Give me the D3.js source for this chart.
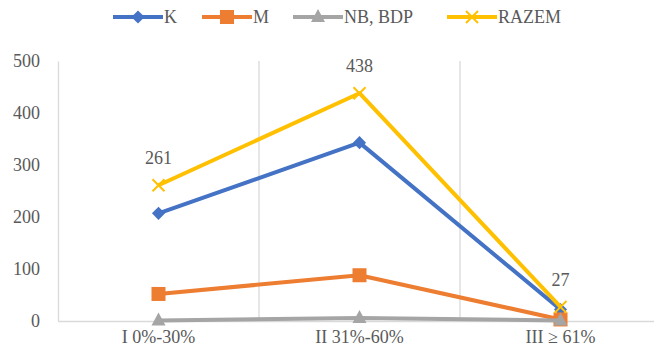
<!DOCTYPE html>
<html>
<head>
<meta charset="utf-8">
<script src="https://cdn.jsdelivr.net/npm/d3@7/dist/d3.min.js"></script>
<style>
  html, body { margin: 0; padding: 0; background: #fff; overflow: hidden; }
  svg { display: block; font-family: "Liberation Serif", "Times New Roman", serif; }
</style>
</head>
<body>
<svg id="chart" width="654" height="353"></svg>
<script>
// Categories and series
const categories = ["I 0%-30%", "II 31%-60%", "III \u2265 61%"];
const seriesNames = ["K", "M", "NB, BDP", "RAZEM"];
const valuesK = [207, 343, 22];
const valuesM = [52, 88, 3];
const valuesNB = [1, 6, 1];
const valuesRazem = [261, 438, 27];
const yTicks = [0, 100, 200, 300, 400, 500];

const seriesColors = ["#4472C4", "#ED7D31", "#A5A5A5", "#FFC000"];
const seriesMarkers = ["diamond", "square", "triangle", "cross"];
const series = [valuesK, valuesM, valuesNB, valuesRazem].map((v, i) => ({
  name: seriesNames[i], values: v, color: seriesColors[i], marker: seriesMarkers[i]
}));

const svg = d3.select("#chart");
const textColor = "#595959";
const gridColor = "#d9d9d9";

const x = d3.scaleBand().domain(categories).range([58, 661]).paddingInner(0).paddingOuter(0);
const y = d3.scaleLinear().domain([0, 500]).range([321, 61]);
const cx = c => x(c) + x.bandwidth() / 2;

// Vertical category separators
const bounds = categories.slice(1).map(c => x(c)).concat([x.range()[1]]);
svg.append("g").selectAll("line").data(bounds).join("line")
  .attr("x1", d => d).attr("x2", d => d)
  .attr("y1", y(500)).attr("y2", y(0))
  .attr("stroke", gridColor).attr("stroke-width", 1.3);

// Y axis
const yAxis = svg.append("g").attr("transform", "translate(58,0)")
  .call(d3.axisLeft(y).tickValues(yTicks).tickSize(0).tickPadding(18));
yAxis.select(".domain").attr("stroke", gridColor).attr("stroke-width", 1.3);
yAxis.selectAll("text").attr("fill", textColor).attr("font-size", 18)
  .attr("font-family", "Liberation Serif, serif");

// X axis
const xAxis = svg.append("g").attr("transform", "translate(0,321)")
  .call(d3.axisBottom(x).tickSize(0).tickPadding(9));
xAxis.select(".domain").attr("stroke", gridColor).attr("stroke-width", 1.3);
xAxis.selectAll("text").attr("fill", textColor).attr("font-size", 18)
  .attr("font-family", "Liberation Serif, serif");

// Marker drawing
function drawMarker(g, type, color, px, py) {
  if (type === "diamond") {
    g.append("path").attr("d", d3.symbol(d3.symbolDiamond2, 110)())
      .attr("transform", `translate(${px},${py})`).attr("fill", color);
  } else if (type === "square") {
    g.append("rect").attr("x", px - 7).attr("y", py - 7).attr("width", 14).attr("height", 14)
      .attr("fill", color);
  } else if (type === "triangle") {
    g.append("path").attr("d", `M${px},${py - 8}L${px + 7},${py + 5}L${px - 7},${py + 5}Z`)
      .attr("fill", color);
  } else if (type === "cross") {
    g.append("path").attr("d", `M${px - 6},${py - 6}L${px + 6},${py + 6}M${px + 6},${py - 6}L${px - 6},${py + 6}`)
      .attr("stroke", color).attr("stroke-width", 2).attr("fill", "none");
  }
}

// Lines and markers
const line = d3.line().x((d, i) => cx(categories[i])).y(d => y(d));
series.forEach(s => {
  const g = svg.append("g");
  g.append("path").attr("d", line(s.values)).attr("fill", "none")
    .attr("stroke", s.color).attr("stroke-width", 4).attr("stroke-linejoin", "round");
  s.values.forEach((v, i) => drawMarker(g, s.marker, s.color, cx(categories[i]), y(v)));
});

// Value labels for the total series
svg.append("g").selectAll("text").data(valuesRazem).join("text")
  .attr("x", (d, i) => cx(categories[i]))
  .attr("y", d => y(d) - 21)
  .attr("text-anchor", "middle").attr("fill", textColor).attr("font-size", 18)
  .text(d => d);

// Legend
const legendX = [113, 202, 293, 447];
const legend = svg.append("g");
series.forEach((s, i) => {
  const lx = legendX[i], ly = 17;
  legend.append("line").attr("x1", lx).attr("x2", lx + 50).attr("y1", ly).attr("y2", ly)
    .attr("stroke", s.color).attr("stroke-width", 4);
  drawMarker(legend, s.marker, s.color, lx + 25, ly);
  legend.append("text").attr("x", lx + 51).attr("y", ly + 6).attr("fill", textColor)
    .attr("font-size", 18).text(s.name);
});
</script>
</body>
</html>
